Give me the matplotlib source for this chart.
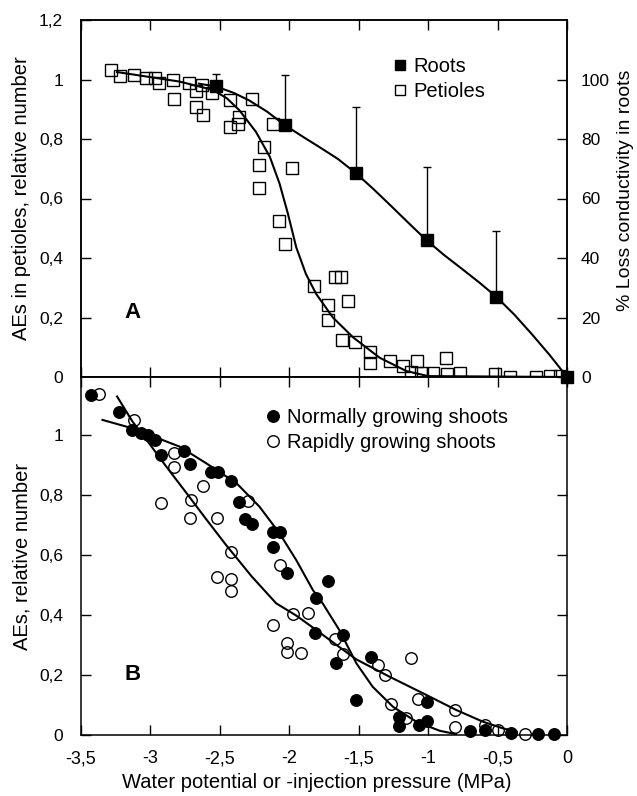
import matplotlib
matplotlib.use('Agg')
import matplotlib.pyplot as plt
import numpy as np
from matplotlib.lines import Line2D
from matplotlib.ticker import FuncFormatter

plt.rcParams['font.family'] = ['Liberation Sans', 'DejaVu Sans']
plt.rcParams['font.size'] = 12.5
plt.rcParams['axes.unicode_minus'] = False

# ---- panel A : petioles (open squares), relative AEs ----
petiole_x = [-3.285, -3.22, -3.12, -3.03, -2.97, -2.94, -2.84, -2.72, -2.67, -2.63,
             -2.83, -2.67, -2.62, -2.56, -2.43, -2.27, -2.36, -2.43, -2.37, -2.12,
             -2.18, -2.22, -1.98, -2.215, -2.076, -2.03, -1.674, -1.626, -1.825, -1.575,
             -1.72, -1.72, -1.62, -1.525, -1.416, -1.416, -1.275, -1.178, -1.08, -0.868,
             -1.12, -1.05, -0.965, -0.864, -0.767, -0.52, -0.41, -0.22, -0.12, -0.05]
petiole_y = [1.032, 1.012, 1.015, 1.004, 1.004, 0.987, 1.0, 0.989, 0.962, 0.981,
             0.934, 0.906, 0.88, 0.955, 0.931, 0.935, 0.874, 0.841, 0.852, 0.852,
             0.772, 0.713, 0.704, 0.635, 0.523, 0.446, 0.337, 0.337, 0.306, 0.254,
             0.243, 0.193, 0.124, 0.118, 0.083, 0.047, 0.054, 0.037, 0.054, 0.065,
             0.018, 0.015, 0.015, 0.011, 0.015, 0.011, 0.0, 0.0, 0.003, 0.003]

# roots: % loss of conductivity (right axis), upper error only
roots_x = [-2.525, -2.03, -1.52, -1.01, -0.51, 0.0]
roots_y = [97.8, 84.6, 68.5, 45.9, 27.0, 0.0]
roots_err = [4.0, 17.0, 22.3, 24.6, 22.0, 0.0]

# fitted curves
petiole_fit_x = [-3.24, -3.0, -2.79, -2.55, -2.45, -2.36, -2.24, -2.14, -2.07, -2.01,
                 -1.95, -1.88, -1.806, -1.686, -1.54, -1.35, -1.157, -1.0, 0.0]
petiole_fit_y = [1.025, 1.008, 0.993, 0.965, 0.937, 0.897, 0.824, 0.74, 0.65, 0.549,
                 0.436, 0.346, 0.279, 0.2, 0.133, 0.065, 0.02, 0.003, 0.0]
roots_fit_x = [-2.65, -2.525, -2.4, -2.29, -2.16, -2.03, -1.9, -1.78, -1.65, -1.52,
               -1.39, -1.265, -1.135, -1.01, -0.88, -0.755, -0.63, -0.51, -0.38, -0.255,
               -0.125, 0.0]
roots_fit_y = [98.6, 97.6, 95.5, 93.0, 89.2, 84.6, 80.7, 77.2, 73.3, 68.5,
               63.0, 57.4, 51.5, 45.9, 40.8, 36.3, 31.7, 27.0, 21.0, 14.5,
               7.4, 0.0]

# ---- panel B : shoots ----
normal_x = [-3.43, -3.225, -3.13, -3.07, -3.02, -2.97, -2.925, -2.76, -2.715, -2.565,
            -2.516, -2.42, -2.36, -2.316, -2.27, -2.12, -2.07, -2.12, -2.02, -1.72,
            -1.81, -1.813, -1.614, -1.667, -1.41, -1.517, -1.21, -1.21, -1.066, -1.005,
            -1.005, -0.70, -0.59, -0.40, -0.207, -0.092]
normal_y = [1.133, 1.078, 1.017, 1.008, 1.0, 0.983, 0.933, 0.948, 0.903, 0.878,
            0.878, 0.847, 0.778, 0.719, 0.703, 0.678, 0.678, 0.628, 0.541, 0.512,
            0.458, 0.341, 0.333, 0.239, 0.261, 0.117, 0.061, 0.03, 0.033, 0.046,
            0.111, 0.014, 0.015, 0.006, 0.003, 0.003]

rapid_x = [-3.37, -3.117, -2.83, -2.83, -2.62, -2.3, -2.925, -2.71, -2.715, -2.52,
           -2.42, -2.07, -2.52, -2.42, -2.42, -2.12, -1.975, -1.866, -2.02, -2.02,
           -1.914, -1.674, -1.614, -1.361, -1.313, -1.12, -1.265, -1.157, -1.073, -0.808,
           -0.808, -0.59, -0.496, -0.30]
rapid_y = [1.137, 1.05, 0.939, 0.894, 0.831, 0.781, 0.772, 0.783, 0.724, 0.724,
           0.611, 0.567, 0.528, 0.519, 0.481, 0.367, 0.403, 0.408, 0.308, 0.278,
           0.274, 0.319, 0.269, 0.233, 0.2, 0.256, 0.102, 0.056, 0.119, 0.083,
           0.026, 0.033, 0.017, 0.003]

normal_fit_x = [-3.345, -3.13, -2.79, -2.6, -2.38, -2.215, -2.07, -1.95, -1.83, -1.76,
                -1.64, -1.517, -1.4, -1.253, -1.084, -0.916, -0.8]
normal_fit_y = [1.05, 1.022, 0.961, 0.906, 0.839, 0.761, 0.672, 0.583, 0.483, 0.439,
                0.35, 0.239, 0.161, 0.094, 0.044, 0.014, 0.003]
rapid_fit_x = [-3.24, -3.13, -3.03, -2.89, -2.74, -2.6, -2.455, -2.27, -2.095, -1.95,
               -1.806, -1.66, -1.517, -1.277, -1.037, -0.796, -0.604, -0.46, -0.363]
rapid_fit_y = [1.128, 1.045, 0.985, 0.897, 0.806, 0.72, 0.633, 0.528, 0.439, 0.398,
               0.35, 0.30, 0.252, 0.194, 0.139, 0.083, 0.044, 0.022, 0.011]

xticks = [-3.5, -3, -2.5, -2, -1.5, -1, -0.5, 0]


def comma(v, pos):
    return ('%g' % round(v, 2)).replace('.', ',')


W, H = 637, 796
fig = plt.figure(figsize=(W / 100, H / 100), dpi=100)
ax1 = fig.add_axes([81 / W, 1 - 377 / H, 486 / W, 357 / H])
ax2 = fig.add_axes([81 / W, 1 - 735 / H, 486 / W, 358 / H])
ax1r = ax1.twinx()

for a in (ax1, ax2, ax1r):
    for s in a.spines.values():
        s.set_linewidth(1.1)

# panel A
ax1.plot(petiole_fit_x, petiole_fit_y, color='k', lw=1.5, zorder=2)
ax1.plot(petiole_x, petiole_y, ls='none', marker='s', ms=8, mfc='none', mec='k',
         mew=1.0, clip_on=False, zorder=3)
ax1.set_xlim(-3.5, 0)
ax1.set_ylim(0, 1.2)
ax1.set_xticks(xticks)
ax1.set_yticks([0, 0.2, 0.4, 0.6, 0.8, 1.0, 1.2])
ax1.yaxis.set_major_formatter(FuncFormatter(comma))
ax1.tick_params(axis='x', direction='in', top=True, bottom=True, labelbottom=False,
                length=7, width=1)
ax1.tick_params(axis='y', direction='in', left=True, right=False, length=7, width=1,
                pad=13, labelsize=12.5)

ax1r.plot(roots_fit_x, roots_fit_y, color='k', lw=1.5, zorder=2)
ax1r.errorbar(roots_x, roots_y, yerr=[np.zeros(len(roots_err)), roots_err], fmt='none',
              ecolor='k', elinewidth=1.0, capsize=3, capthick=1.0, zorder=3)
ax1r.plot(roots_x, roots_y, ls='none', marker='s', ms=8.5, mfc='k', mec='k',
          clip_on=False, zorder=4)
ax1r.set_ylim(0, 120)
ax1r.set_yticks([0, 20, 40, 60, 80, 100])
ax1r.tick_params(axis='y', direction='in', length=7, width=1, pad=10, labelsize=12.5)

ax1.text(0.105, 0.182, 'A', transform=ax1.transAxes, fontsize=16, fontweight='bold',
         ha='center', va='center')

fig.legend(handles=[Line2D([], [], ls='none', marker='s', ms=7.5, mfc='k', mec='k'),
                    Line2D([], [], ls='none', marker='s', ms=7.5, mfc='none', mec='k', mew=1.0)],
           labels=['Roots', 'Petioles'], loc='upper left',
           bbox_to_anchor=(394 / W, 1 - 57 / H), frameon=False, handlelength=0.6,
           handletextpad=0.35, labelspacing=0.28, borderpad=0, borderaxespad=0,
           fontsize=14.5)

# panel B
ax2.plot(normal_fit_x, normal_fit_y, color='k', lw=1.5, zorder=2)
ax2.plot(rapid_fit_x, rapid_fit_y, color='k', lw=1.5, zorder=2)
ax2.plot(normal_x, normal_y, ls='none', marker='o', ms=8.3, mfc='k', mec='k',
         clip_on=False, zorder=3)
ax2.plot(rapid_x, rapid_y, ls='none', marker='o', ms=8.3, mfc='none', mec='k',
         mew=1.0, clip_on=False, zorder=4)
ax2.set_xlim(-3.5, 0)
ax2.set_ylim(0, 1.193)
ax2.set_xticks(xticks)
ax2.xaxis.set_major_formatter(FuncFormatter(comma))
ax2.set_yticks([0, 0.2, 0.4, 0.6, 0.8, 1.0])
ax2.yaxis.set_major_formatter(FuncFormatter(comma))
ax2.tick_params(axis='x', direction='in', top=True, bottom=True, length=7, width=1,
                pad=11, labelsize=13)
ax2.tick_params(axis='y', direction='in', left=True, right=True, length=7, width=1,
                pad=13, labelsize=12.5)

ax2.text(0.107, 0.168, 'B', transform=ax2.transAxes, fontsize=16, fontweight='bold',
         ha='center', va='center')

fig.legend(handles=[Line2D([], [], ls='none', marker='o', ms=8.3, mfc='k', mec='k'),
                    Line2D([], [], ls='none', marker='o', ms=8.3, mfc='none', mec='k', mew=1.0)],
           labels=['Normally growing shoots', 'Rapidly growing shoots'], loc='upper left',
           bbox_to_anchor=(267 / W, 1 - 408 / H), frameon=False, handlelength=0.6,
           handletextpad=0.4, labelspacing=0.28, borderpad=0, borderaxespad=0,
           fontsize=14.5)

# axis titles
fig.text(22 / W, 1 - 198 / H, 'AEs in petioles, relative number', rotation=90,
         ha='center', va='center', fontsize=14.5)
fig.text(22 / W, 1 - 556 / H, 'AEs, relative number', rotation=90,
         ha='center', va='center', fontsize=14.5)
fig.text(626 / W, 1 - 190 / H, '% Loss conductivity in roots', rotation=90,
         ha='center', va='center', fontsize=14)
fig.text(317 / W, 1 - 782 / H, 'Water potential or -injection pressure (MPa)',
         ha='center', va='center', fontsize=14.5)

fig.savefig('out.png', dpi=100)
